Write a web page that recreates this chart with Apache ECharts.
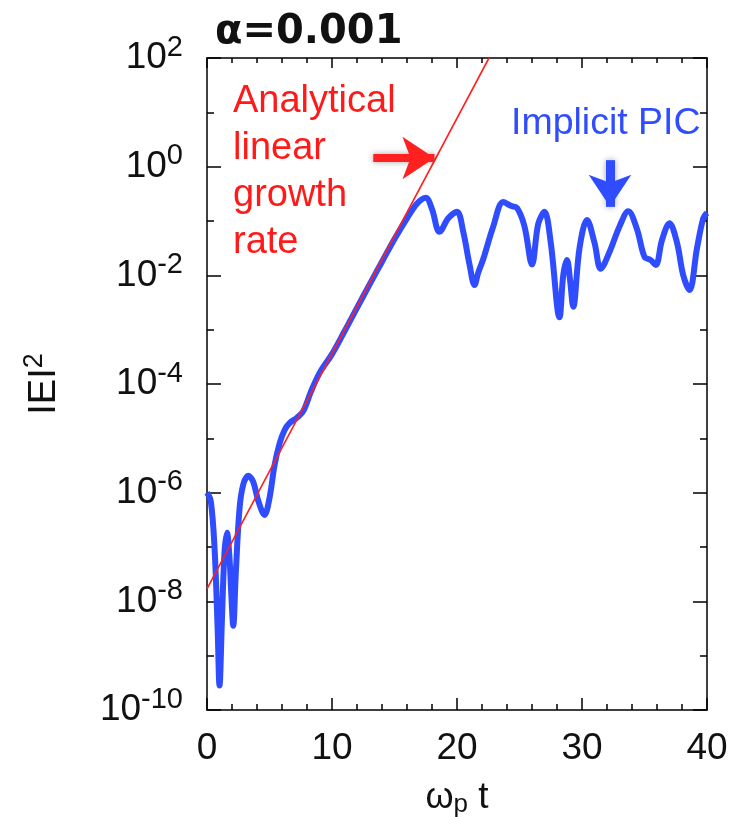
<!DOCTYPE html>
<html>
<head>
<meta charset="utf-8">
<script src="https://cdn.jsdelivr.net/npm/echarts@6/dist/echarts.min.js"></script>
<style>
  html, body { margin: 0; padding: 0; background: #fff; }
  #chart { width: 736px; height: 817px; }
</style>
</head>
<body>
<div id="chart"></div>
<script>
// implicit PIC run, y is log10 |E|^2
const picTime = [0, 0.3, 0.6, 0.85, 1.0, 1.2, 1.4, 1.6, 1.8, 1.95, 2.1, 2.3, 2.6, 2.9, 3.3, 3.7, 4.1, 4.6, 5.0, 5.4,
  5.8, 6.2, 6.6, 7.2, 7.7, 8.3, 9.0, 10, 11, 12, 13, 14, 15, 16, 16.8, 17.5, 18.0, 18.6, 19.3, 20.0,
  20.5, 21.0, 21.4, 21.7, 22.1, 22.9, 23.7, 24.3, 24.8, 25.4, 26.0, 26.5, 27.0, 27.5, 28.2, 28.5, 28.8, 29.05, 29.3, 29.8,
  30.4, 31.0, 31.5, 32.2, 33.0, 33.7, 34.4, 35.0, 35.5, 35.9, 36.4, 37.0, 37.6, 38.1, 38.6, 39.2, 39.7, 40]
const picLogE2 = [-6.0, -6.15, -7.0, -8.5, -9.55, -8.3, -7.1, -6.74, -7.2, -7.9, -8.45, -7.5, -6.3, -5.85, -5.69, -5.8, -6.15, -6.41, -6.1, -5.5,
  -5.1, -4.85, -4.72, -4.62, -4.5, -4.15, -3.8, -3.45, -3.03, -2.6, -2.17, -1.75, -1.33, -0.95, -0.68, -0.57, -0.78, -1.2, -0.95, -0.83,
  -1.2, -1.8, -2.18, -1.95, -1.7, -1.1, -0.65, -0.72, -0.76, -1.1, -1.8, -1.05, -0.83, -1.4, -2.77, -2.0, -1.72, -2.1, -2.58, -1.5,
  -0.98, -1.4, -1.88, -1.57, -1.1, -0.82, -1.15, -1.66, -1.72, -1.81, -1.35, -1.04, -1.4, -2.0, -2.27, -1.5, -0.95, -0.85]

// analytical linear growth (straight line on log scale)
const growthTime = [0, 22.56]
const growthLogE2 = [-7.77, 2]

const zip = (xs, ys) => xs.map((x, i) => [x, ys[i]])

const chart = echarts.init(document.getElementById('chart'))

const axisLine = { onZero: false, lineStyle: { color: '#000', width: 1.5 } }
const tickLine = { color: '#000', width: 1.5 }
const labelFont = 'Liberation Sans'

chart.setOption({
  animation: false,
  title: {
    text: 'α=0.001',
    left: 210,
    top: 8,
    textStyle: { fontFamily: 'DejaVu Sans', fontSize: 40, fontWeight: 'bold', color: '#111' }
  },
  grid: { left: 207, right: 29, top: 58, bottom: 107, outerBoundsMode: 'none' },
  xAxis: [
    {
      type: 'value',
      min: 0,
      max: 40,
      interval: 10,
      position: 'bottom',
      axisLine: axisLine,
      axisTick: { inside: true, length: 12, lineStyle: tickLine },
      minorTick: { show: true, splitNumber: 5, length: 6, lineStyle: tickLine },
      splitLine: { show: false },
      axisLabel: { fontFamily: labelFont, fontSize: 37, color: '#111', margin: 20 },
      name: '{w|ω}{p|p}{t| t}',
      nameLocation: 'middle',
      nameGap: 68,
      nameTextStyle: {
        rich: {
          w: { fontFamily: labelFont, fontSize: 36, color: '#111', lineHeight: 40 },
          p: { fontFamily: labelFont, fontSize: 26, color: '#111', lineHeight: 40, verticalAlign: 'bottom', padding: [14, 0, 0, 0] },
          t: { fontFamily: labelFont, fontSize: 37, color: '#111', lineHeight: 40 }
        }
      }
    },
    {
      type: 'value',
      min: 0,
      max: 40,
      interval: 10,
      position: 'top',
      axisLine: axisLine,
      axisTick: { inside: true, length: 10, lineStyle: tickLine },
      minorTick: { show: true, splitNumber: 5, length: 5, lineStyle: tickLine },
      splitLine: { show: false },
      axisLabel: { show: false }
    }
  ],
  yAxis: [
    {
      type: 'value',
      min: -10,
      max: 2,
      interval: 2,
      position: 'left',
      axisLine: axisLine,
      axisTick: { inside: true, length: 14, lineStyle: tickLine },
      minorTick: { show: true, splitNumber: 2, length: 7, lineStyle: tickLine },
      splitLine: { show: false },
      axisLabel: {
        margin: 24,
        formatter: v => '{b|10}{s|' + v + '}',
        rich: {
          b: { fontFamily: labelFont, fontSize: 37, color: '#111', lineHeight: 50 },
          s: { fontFamily: labelFont, fontSize: 29, color: '#111', lineHeight: 29, verticalAlign: 'top' }
        }
      },
      name: '{e|IEI}{s|2}',
      nameLocation: 'middle',
      nameRotate: 90,
      nameGap: 138,
      nameTextStyle: {
        rich: {
          e: { fontFamily: labelFont, fontSize: 38, color: '#111', lineHeight: 48 },
          s: { fontFamily: labelFont, fontSize: 27, color: '#111', lineHeight: 27, verticalAlign: 'top' }
        }
      }
    },
    {
      type: 'value',
      min: -10,
      max: 2,
      interval: 2,
      position: 'right',
      axisLine: axisLine,
      axisTick: { inside: true, length: 14, lineStyle: tickLine },
      minorTick: { show: true, splitNumber: 2, length: 7, lineStyle: tickLine },
      splitLine: { show: false },
      axisLabel: { show: false }
    }
  ],
  series: [
    {
      name: 'Implicit PIC',
      type: 'line',
      data: zip(picTime, picLogE2),
      symbol: 'none',
      smooth: 0.35,
      lineStyle: { color: '#2f4dff', width: 6 },
      z: 2,
      markLine: {
        silent: true,
        symbol: ['none', 'arrow'],
        symbolSize: 32,
        label: { show: false },
        lineStyle: { color: '#2f4dff', width: 9, type: 'solid', shadowBlur: 6, shadowColor: 'rgba(0,0,0,0.35)' },
        data: [[{ coord: [32.24, 0.12] }, { coord: [32.24, -0.74] }]]
      }
    },
    {
      name: 'Analytical',
      type: 'line',
      data: zip(growthTime, growthLogE2),
      symbol: 'none',
      lineStyle: { color: '#ff2020', width: 1.6 },
      z: 3,
      markLine: {
        silent: true,
        symbol: ['none', 'arrow'],
        symbolSize: 32,
        label: { show: false },
        lineStyle: { color: '#ff2020', width: 8, type: 'solid', shadowBlur: 6, shadowColor: 'rgba(0,0,0,0.35)' },
        data: [[{ coord: [13.3, 0.16] }, { coord: [18.2, 0.16] }]]
      }
    }
  ],
  graphic: [
    {
      type: 'text',
      left: 233,
      top: 78,
      style: {
        text: 'Analytical\nlinear\ngrowth\nrate',
        fill: '#ff1a1a',
        fontFamily: labelFont,
        fontSize: 38,
        lineHeight: 47
      }
    },
    {
      type: 'text',
      left: 511,
      top: 105,
      style: {
        text: 'Implicit PIC',
        fill: '#2f4dff',
        fontFamily: labelFont,
        fontSize: 37.5
      }
    }
  ]
})
</script>
</body>
</html>
